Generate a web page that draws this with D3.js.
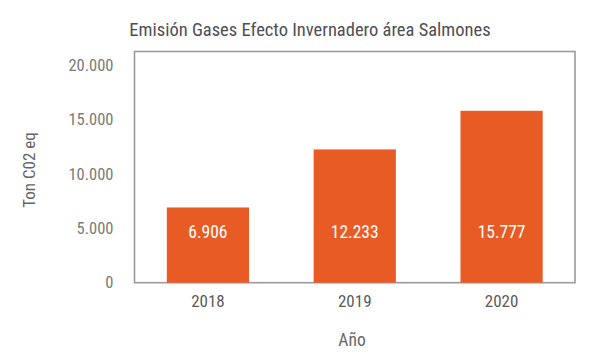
<!DOCTYPE html>
<html>
<head>
<meta charset="utf-8">
<script src="https://cdn.jsdelivr.net/npm/d3@7"></script>
<style>
  html, body { margin: 0; padding: 0; background: #fff; }
  svg text { font-family: "Roboto Condensed", "Liberation Sans Narrow", "DejaVu Sans Condensed", sans-serif; font-weight: 400; }
</style>
</head>
<body>
<svg id="chart" width="589" height="360"></svg>
<script>
const categories = ["2018", "2019", "2020"];
const values = [6906, 12233, 15777];
const valueLabels = ["6.906", "12.233", "15.777"];
const yTicks = [0, 5000, 10000, 15000, 20000];
const yTickLabels = ["0", "5.000", "10.000", "15.000", "20.000"];
const title = "Emisión Gases Efecto Invernadero área Salmones";
const yTitle = "Ton C02 eq";
const xTitle = "Año";

const svg = d3.select("#chart");
const frame = { left: 134.5, right: 575, top: 51.5, bottom: 282.7 };

const x = d3.scaleBand().domain(categories).range([frame.left, frame.right]).paddingInner(0.44).paddingOuter(0.22);
const y = d3.scaleLinear().domain([0, 21220]).range([frame.bottom, frame.top]);

const orange = "#E85B25";
const gray = "#7a7a7a";

svg.append("rect")
  .attr("x", frame.left).attr("y", frame.top)
  .attr("width", frame.right - frame.left).attr("height", frame.bottom - frame.top)
  .attr("fill", "none").attr("stroke", "#9a9a9e").attr("stroke-width", 1.6);

svg.selectAll("rect.bar").data(values).join("rect")
  .attr("class", "bar")
  .attr("x", (d, i) => x(categories[i]))
  .attr("width", x.bandwidth())
  .attr("y", d => y(d))
  .attr("height", d => y(0) - y(d))
  .attr("fill", orange);

svg.selectAll("text.val").data(values).join("text")
  .attr("class", "val")
  .attr("x", (d, i) => x(categories[i]) + x.bandwidth() / 2)
  .attr("y", 237.5)
  .attr("text-anchor", "middle")
  .attr("fill", "#fff")
  .attr("font-size", 17.5)
  .attr("font-weight", 300)
  .text((d, i) => valueLabels[i]);

const yAxis = d3.axisLeft(y).tickValues(yTicks).tickFormat((d, i) => yTickLabels[i]).tickSize(0).tickPadding(21);
const gy = svg.append("g").attr("transform", `translate(${frame.left},0)`).call(yAxis);
gy.select(".domain").remove();
gy.selectAll("text").attr("fill", gray).attr("font-size", 16.5).attr("font-family", null);

const xAxis = d3.axisBottom(x).tickSize(0).tickPadding(12);
const gx = svg.append("g").attr("transform", `translate(0,${frame.bottom})`).call(xAxis);
gx.select(".domain").remove();
gx.selectAll("text").attr("fill", "#5a5a5a").attr("font-size", 17).attr("font-family", null);

svg.append("text").attr("x", 310).attr("y", 35.5).attr("text-anchor", "middle")
  .attr("fill", "#4f4f55").attr("font-size", 18.5).attr("font-weight", 500).text(title);
svg.append("text").attr("x", 352).attr("y", 346).attr("text-anchor", "middle")
  .attr("fill", "#666").attr("font-size", 17.5).text(xTitle);
svg.append("text").attr("transform", "translate(35,170) rotate(-90)").attr("text-anchor", "middle")
  .attr("fill", "#666").attr("font-size", 17).text(yTitle);
</script>
</body>
</html>
